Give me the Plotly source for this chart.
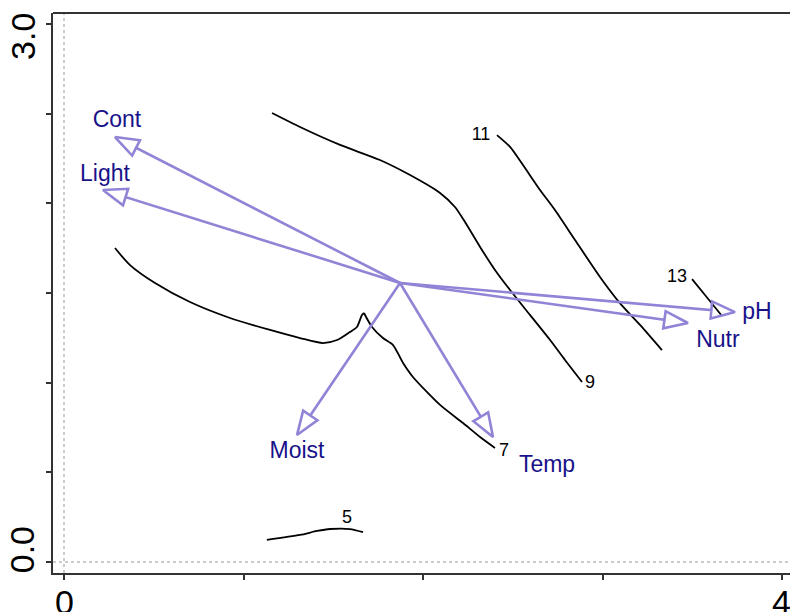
import numpy as np
import plotly.graph_objects as go

# ---- Environmental arrows (biplot) ----
arrow_names = ["Cont", "Light", "Moist", "Temp", "Nutr", "pH"]
arrow_origin = (1.872, 1.556)
arrow_x = [0.284, 0.217, 1.298, 2.390, 3.476, 3.738]
arrow_y = [2.370, 2.075, 0.708, 0.697, 1.333, 1.394]
arrow_label_x = [0.295, 0.228, 1.298, 2.691, 3.643, 3.861]
arrow_label_y = [2.460, 2.158, 0.613, 0.535, 1.233, 1.389]

# ---- Contour lines (isolines) ----
contour_levels = ["5", "7", "9", "11", "13"]
c5_x = [1.130, 1.315, 1.410, 1.482, 1.593, 1.666]
c5_y = [0.123, 0.151, 0.173, 0.184, 0.184, 0.167]
c7_x = [0.284, 0.368, 0.507, 0.702, 0.925, 1.148, 1.315, 1.443, 1.521, 1.593,
        1.632, 1.660, 1.671, 1.716, 1.777, 1.833, 1.889, 1.944, 2.095, 2.223,
        2.318, 2.401]
c7_y = [1.751, 1.656, 1.556, 1.450, 1.361, 1.294, 1.249, 1.221, 1.238, 1.283,
        1.311, 1.378, 1.389, 1.311, 1.249, 1.210, 1.110, 1.032, 0.876, 0.775,
        0.697, 0.636]
c7_cusp = 12  # index of the sharp peak in contour 7
c9_x = [1.159, 1.315, 1.538, 1.760, 1.928, 2.095, 2.178, 2.234, 2.318, 2.401,
        2.485, 2.596, 2.708, 2.791, 2.886]
c9_y = [2.504, 2.426, 2.326, 2.242, 2.158, 2.058, 1.980, 1.896, 1.757, 1.629,
        1.517, 1.378, 1.238, 1.127, 1.004]
c11_x = [2.412, 2.485, 2.557, 2.652, 2.735, 2.847, 2.986, 3.097, 3.209, 3.331]
c11_y = [2.381, 2.315, 2.214, 2.075, 1.963, 1.796, 1.590, 1.444, 1.322, 1.182]
c13_x = [3.499, 3.571, 3.666]
c13_y = [1.578, 1.489, 1.372]
contour_label_x = [1.576, 2.451, 2.930, 2.323, 3.415]
contour_label_y = [0.245, 0.619, 0.998, 2.376, 1.584]

# ---- Axis tick labels ----
x_tick_vals = [0, 1, 2, 3, 4]
x_tick_text = ["0", "", "", "", "4"]
y_tick_vals = [0, 0.5, 1.0, 1.5, 2.0, 2.5, 3.0]
y_tick_text = ["0.0", "", "", "", "", "", "3.0"]

ARROW_COLOR = "#9184d6"
LABEL_COLOR = "#18128a"
FONT = "Liberation Sans, Arial, sans-serif"

fig = go.Figure()

# contour lines
segments = [
    (c5_x, c5_y),
    (c7_x[:c7_cusp + 1], c7_y[:c7_cusp + 1]),
    (c7_x[c7_cusp:], c7_y[c7_cusp:]),
    (c9_x, c9_y),
    (c11_x, c11_y),
    (c13_x, c13_y),
]
for cx, cy in segments:
    fig.add_trace(go.Scatter(x=cx, y=cy, mode="lines",
                             line=dict(color="black", width=1.8, shape="spline", smoothing=0.7),
                             hoverinfo="skip", showlegend=False))

fig.add_trace(go.Scatter(x=contour_label_x, y=contour_label_y, mode="text",
                         text=contour_levels,
                         textfont=dict(family=FONT, size=18, color="black"),
                         hoverinfo="skip", showlegend=False))

# arrows with hollow triangular heads
L = 0.132   # head length (data units)
W = 0.048   # head half-width
ox, oy = arrow_origin
for tx, ty in zip(arrow_x, arrow_y):
    d = np.array([tx - ox, ty - oy])
    d = d / np.linalg.norm(d)
    n = np.array([-d[1], d[0]])
    tip = np.array([tx, ty])
    base = tip - L * d
    bl = base + W * n
    br = base - W * n
    px = [ox, base[0], bl[0], tip[0], br[0], base[0]]
    py = [oy, base[1], bl[1], tip[1], br[1], base[1]]
    fig.add_trace(go.Scatter(x=px, y=py, mode="lines",
                             line=dict(color=ARROW_COLOR, width=2.6),
                             hoverinfo="skip", showlegend=False))

fig.add_trace(go.Scatter(x=arrow_label_x, y=arrow_label_y, mode="text",
                         text=arrow_names,
                         textfont=dict(family=FONT, size=23, color=LABEL_COLOR),
                         hoverinfo="skip", showlegend=False))

# dotted zero lines
fig.add_shape(type="line", xref="x", yref="paper", x0=0, x1=0, y0=0, y1=1,
              line=dict(color="#999999", width=1, dash="dot"))
fig.add_shape(type="line", xref="paper", yref="y", x0=0, x1=1, y0=0, y1=0,
              line=dict(color="#999999", width=1, dash="dot"))
# top frame line
fig.add_shape(type="line", xref="paper", yref="paper", x0=0, x1=1, y0=1, y1=1,
              line=dict(color="#333333", width=2))

# axis labels as annotations
for v, t in zip(x_tick_vals, x_tick_text):
    if t:
        fig.add_annotation(x=v, y=-0.052, xref="x", yref="paper", text=t,
                           showarrow=False, yanchor="middle",
                           font=dict(family=FONT, size=34, color="black"))
for v, t in zip(y_tick_vals, y_tick_text):
    if t:
        fig.add_annotation(x=-0.041, y=(v + 0.07 if v == 0 else v - 0.067),
                           xref="paper", yref="y", text=t,
                           showarrow=False, textangle=-90,
                           xanchor="center", yanchor="middle",
                           font=dict(family=FONT, size=34, color="black"))

fig.update_layout(
    width=790, height=612,
    margin=dict(l=53, r=0, t=13, b=39),
    plot_bgcolor="white", paper_bgcolor="white",
    xaxis=dict(range=[-0.0613, 4.0446], tickvals=x_tick_vals, showticklabels=False,
               ticks="outside", ticklen=5, tickwidth=1.5, tickcolor="#333333",
               showline=True, linecolor="#333333", linewidth=2,
               showgrid=False, zeroline=False, fixedrange=True),
    yaxis=dict(range=[-0.0613, 3.0619], tickvals=y_tick_vals, showticklabels=False,
               ticks="outside", ticklen=5, tickwidth=1.5, tickcolor="#333333",
               showline=True, linecolor="#333333", linewidth=2,
               showgrid=False, zeroline=False, fixedrange=True),
    showlegend=False,
)

fig.write_html("out.html")
